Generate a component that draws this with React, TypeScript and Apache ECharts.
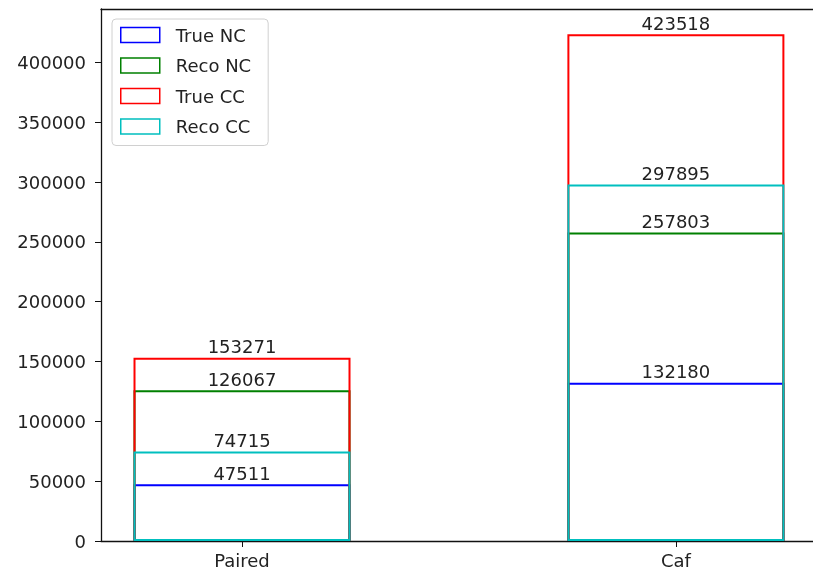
import React, { useEffect, useRef } from "react";
import * as echarts from "echarts";

const categories = ["Paired", "Caf"];
const trueNC = [47511, 132180];
const recoNC = [126067, 257803];
const trueCC = [153271, 423518];
const recoCC = [74715, 297895];
const yTicks = [0, 50000, 100000, 150000, 200000, 250000, 300000, 350000, 400000];
const seriesNames = ["True NC", "Reco NC", "True CC", "Reco CC"];
const seriesColors = ["#0000ff", "#008000", "#ff0000", "#00bfbf"];

const FONT = "DejaVu Sans";

export default function App() {
  const ref = useRef<HTMLDivElement>(null);
  useEffect(() => {
    if (!ref.current) return;
    const chart = echarts.init(ref.current, undefined, { renderer: "svg" });
    const allData = [trueNC, recoNC, trueCC, recoCC];
    const series = allData.map((vals, i) => ({
      name: seriesNames[i],
      type: "bar",
      xAxisIndex: 0,
      data: vals.map((v, k) => [k, v]),
      barWidth: 217,
      barGap: "-100%",
      itemStyle: {
        color: "rgba(0,0,0,0)",
        borderColor: seriesColors[i],
        borderWidth: 2,
      },
      label: {
        show: true,
        position: "top",
        distance: 2,
        fontFamily: FONT,
        fontSize: 18,
        color: "#222",
        formatter: (p: any) => String(p.value[1]),
      },
    }));
    chart.setOption({
      animation: false,
      textStyle: { fontFamily: FONT },
      grid: {
        left: 101,
        right: 0,
        top: 9,
        bottom: 33,
        show: false,
      },
      legend: {
        orient: "vertical",
        left: 112,
        top: 19,
        padding: [7, 17, 10, 8],
        itemWidth: 39,
        itemHeight: 15,
        itemGap: 12.5,
        backgroundColor: "rgba(255,255,255,0.8)",
        borderColor: "#d0d0d0",
        borderWidth: 1,
        borderRadius: 4,
        textStyle: {
          fontFamily: FONT,
          fontSize: 18,
          color: "#222",
          lineHeight: 18,
          padding: [0, 0, 0, 11],
        },
        data: seriesNames.map((n, i) => ({
          name: n,
          icon: "rect",
          itemStyle: {
            color: "rgba(0,0,0,0)",
            borderColor: seriesColors[i],
            borderWidth: 1.5,
          },
        })),
      },
      xAxis: [
        {
          type: "value",
          min: -0.325,
          max: 1.316,
          splitLine: { show: false },
          axisLine: { show: true, onZero: false, lineStyle: { color: "#111", width: 1.3 } },
          axisTick: {
            show: true,
            length: 6,
            lineStyle: { color: "#111" },
            customValues: [0, 1],
          },
          axisLabel: {
            customValues: [0, 1],
            fontFamily: FONT,
            fontSize: 18,
            color: "#222",
            margin: 10,
            formatter: (v: number) => categories[Math.round(v)] ?? "",
          },
        },
        {
          type: "value",
          position: "top",
          min: -0.325,
          max: 1.316,
          splitLine: { show: false },
          axisLine: { show: true, onZero: false, lineStyle: { color: "#111", width: 1.3 } },
          axisTick: { show: false },
          axisLabel: { show: false },
        },
      ],
      yAxis: {
        type: "value",
        min: 0,
        max: 444694,
        splitLine: { show: false },
        axisLine: { show: true, onZero: false, lineStyle: { color: "#111", width: 1.3 } },
        axisTick: {
          show: true,
          length: 6,
          lineStyle: { color: "#111" },
          customValues: yTicks,
        },
        axisLabel: {
          customValues: yTicks,
          fontFamily: FONT,
          fontSize: 18,
          color: "#222",
          margin: 15,
          formatter: (v: number) => String(v),
        },
      },
      series,
    });
    return () => chart.dispose();
  }, []);
  return <div ref={ref} style={{ width: 813, height: 574, position: "fixed", left: 0, top: 0 }} />;
}
